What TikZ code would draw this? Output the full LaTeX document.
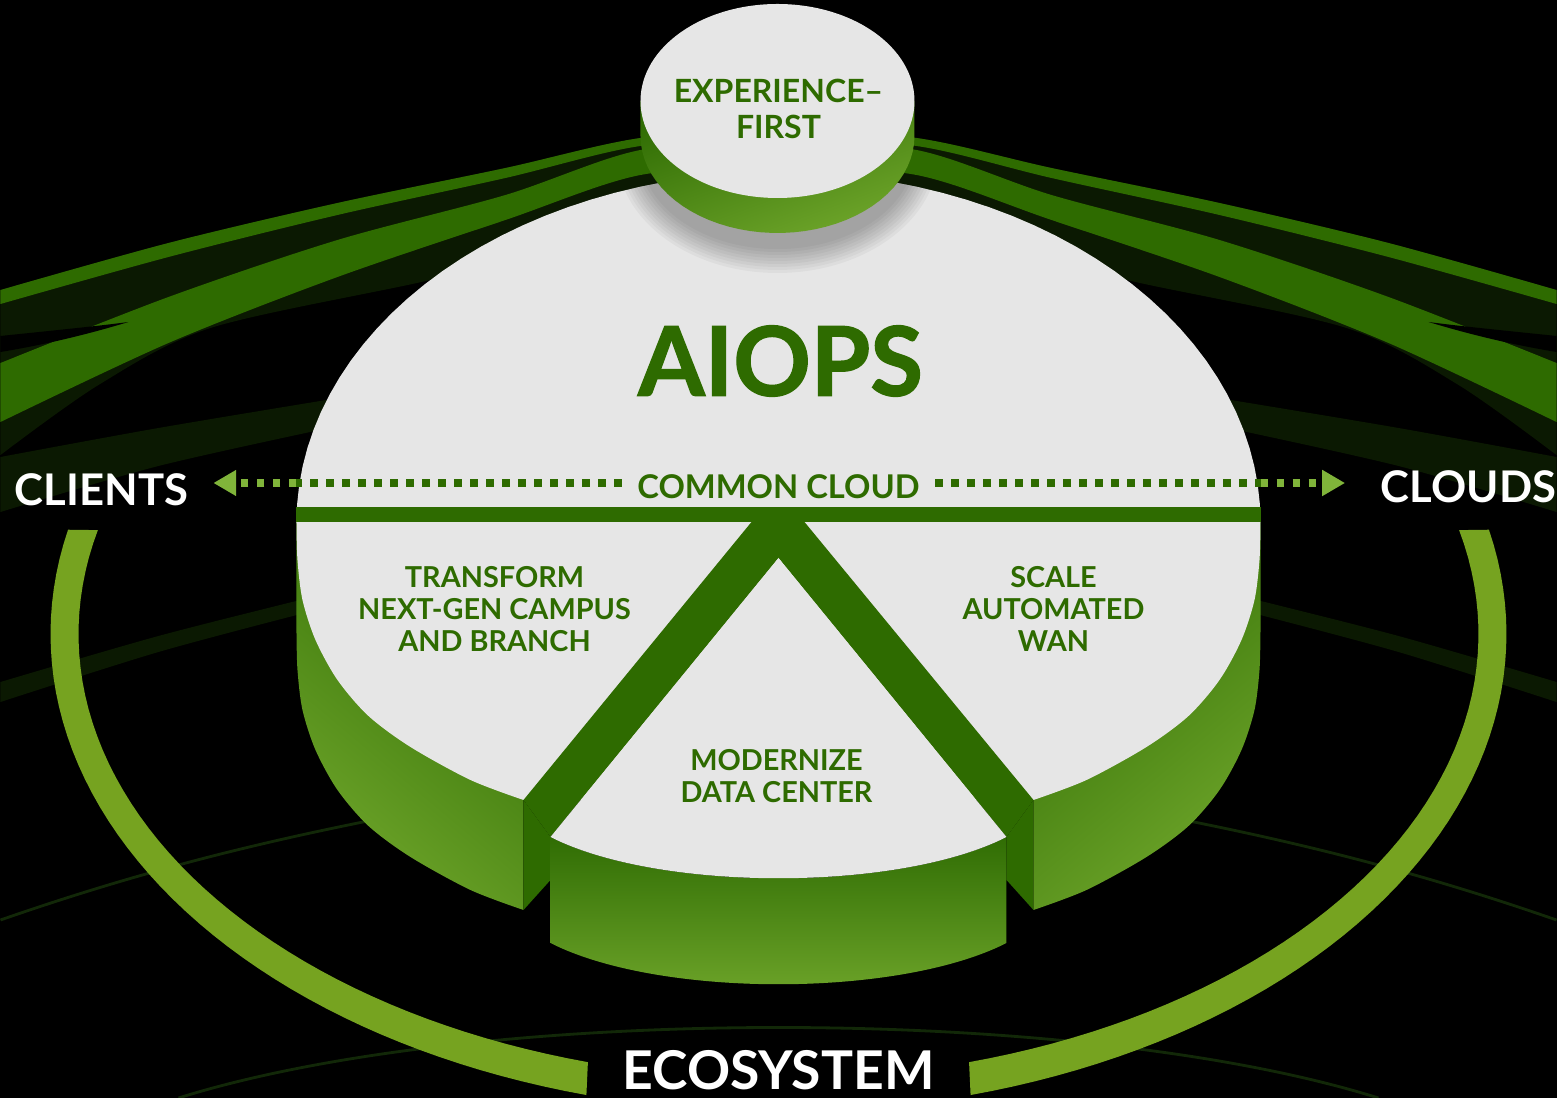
\documentclass[tikz,border=0pt]{standalone}
\usepackage{fontspec}
\setmainfont{Lato}
\newfontfamily\heavyfont{Lato}[UprightFont=* Bold, FakeBold=1.4]
\usetikzlibrary{arrows.meta}

\definecolor{leafgreen}{RGB}{46,107,0}
\definecolor{ringgreen}{RGB}{118,163,32}
\definecolor{tipgreen}{RGB}{128,180,58}
\definecolor{paper}{RGB}{230,230,230}
\definecolor{nightgreen}{RGB}{11,25,2}
\definecolor{faintgreen}{RGB}{18,40,8}
\definecolor{walldark}{RGB}{48,109,4}
\definecolor{walllight}{RGB}{110,165,42}

\begin{document}
\begin{tikzpicture}[x=0.01cm, y=-0.01cm,
  slicetext/.style={text=leafgreen, align=center, inner sep=0pt, font=\bfseries\fontsize{8.2}{9.1}\selectfont},
  sidelabel/.style={text=white, inner sep=0pt, font=\bfseries\fontsize{12.4}{14}\selectfont},
  dotline/.style={line width=2pt, dash pattern=on 2pt off 2.55pt},
  faintline/.style={draw=faintgreen, line width=0.8pt}]
\useasboundingbox (-778.5,0) rectangle (778.5,1098);

% Background
\fill[black] (-778.5,0) rectangle (778.5,1098);

% Dark haze behind the upper bands
\fill[nightgreen] plot[smooth] coordinates {(-778,290) (-610,243) (-441,203) (-273,168) (-138,138) (0,130) (138,138) (273,168) (441,203) (610,243) (778,290)}
  -- plot[smooth] coordinates {(778,455) (680,385) (568,328) (357,282) (200,245) (0,225) (-200,245) (-357,282) (-568,328) (-680,385) (-778,455)} -- cycle;

% Upper bands
\fill[leafgreen] plot[smooth] coordinates {(-778,290) (-610,243) (-441,203) (-273,168) (-138,138) (0,130) (138,138) (273,168) (441,203) (610,243) (778,290)}
  -- plot[smooth] coordinates {(778,304) (610,257) (441,215) (273,178) (138,146) (0,139) (-138,146) (-273,178) (-441,215) (-610,257) (-778,304)} -- cycle;
\fill[leafgreen] plot[smooth] coordinates {(-778,363) (-610,297) (-441,240) (-273,195) (-138,150) (0,143) (138,150) (273,195) (441,240) (610,297) (778,363)}
  -- plot[smooth] coordinates {(778,422) (610,343) (441,277) (273,220) (138,175) (0,168) (-138,175) (-273,220) (-441,277) (-610,343) (-778,422)} -- cycle;

% Lower bands and faint arcs
\foreach \s in {1,-1} {
  \begin{scope}[xscale=\s]
    \fill[black] (-778,336) .. controls (-720,330) and (-680,326) .. (-650,322) .. controls (-690,334) and (-730,344) .. (-778,352) -- cycle;
    \fill[nightgreen] plot[smooth] coordinates {(-778,457) (-620,428) (-440,398)} -- plot[smooth] coordinates {(-440,426) (-620,466) (-778,512)} -- cycle;
    \fill[nightgreen] plot[smooth] coordinates {(-778,682) (-620,636) (-470,598)} -- plot[smooth] coordinates {(-470,612) (-620,652) (-778,702)} -- cycle;
    \draw[faintline] (-778,920) .. controls (-640,872) and (-520,842) .. (-380,815);
  \end{scope}
}
\draw[faintline] (-600,1098) .. controls (-300,1004) and (300,1004) .. (600,1098);

% Ecosystem ring
\fill[ringgreen] plot[domain=192.6:105.3, samples=50] ({728*cos(\x)},{634+478*sin(\x)})
  -- plot[domain=105.8:193.5, samples=50] ({700*cos(\x)},{634+445*sin(\x)}) -- cycle;
\fill[ringgreen] plot[domain=-12.6:74.7, samples=50] ({728*cos(\x)},{634+478*sin(\x)})
  -- plot[domain=74.2:-13.5, samples=50] ({700*cos(\x)},{634+445*sin(\x)}) -- cycle;

% Disc walls
\shade[top color=walldark, bottom color=walllight, shading angle=-40] (-255,800)
  -- plot[smooth] coordinates {(-255,910) (-308,890) (-368,857) (-410,826) (-441,790) (-463,750) (-476,710) (-481,670) (-482,632)} -- (-482,522) -- cycle;
\shade[top color=walldark, bottom color=walllight, shading angle=40] (255,800)
  -- plot[smooth] coordinates {(255,910) (308,890) (368,857) (410,826) (441,790) (463,750) (476,710) (481,670) (482,632)} -- (482,522) -- cycle;

% Disc top
\fill[paper] plot[smooth] coordinates {(-255,800) (-308,780) (-368,747) (-410,716) (-441,680) (-463,640) (-476,600) (-481,560) (-482,522)}
  -- plot[domain=180:360, samples=60] ({482*cos(\x)},{522+350*sin(\x)})
  -- plot[smooth] coordinates {(482,522) (481,560) (476,600) (463,640) (441,680) (410,716) (368,747) (308,780) (255,800)} -- cycle;

% Shadow under the top cylinder
\begin{scope}
  \clip plot[domain=180:360, samples=60] ({482*cos(\x)},{522+350*sin(\x)}) -- cycle;
  \foreach \k in {1,...,9}
    \fill[black, opacity=0.035] (-1,152) ellipse [x radius={134+3*\k}, y radius={94+3*\k}];
\end{scope}

% Dividers
\fill[leafgreen] (-482,507) rectangle (482,522);
\fill[leafgreen] (-27,522) -- (-255,800) -- (-228,837) -- (0,558) -- (228,837) -- (255,800) -- (26,522) -- cycle;
\fill[leafgreen] (-255,800) -- (-228,837) -- (-228,880) -- (-255,910) -- cycle;
\fill[leafgreen] (255,800) -- (228,837) -- (228,880) -- (255,910) -- cycle;

% Data center slice
\shade[top color=walldark, bottom color=walllight] (-228,837) .. controls (-120,892) and (120,892) .. (228,837)
  -- (228,943) .. controls (120,998) and (-120,998) .. (-228,943) -- cycle;
\fill[paper] (-228,837) -- (0,558) -- (228,837) .. controls (120,892) and (-120,892) .. (-228,837) -- cycle;

% Experience cylinder
\shade[top color=walldark, bottom color=walllight, shading angle=20] (-138,101)
  -- plot[domain=180:0, samples=40] ({-1+137*cos(\x)},{136+97*sin(\x)}) -- (136,101) -- cycle;
\fill[paper] (-1,101) ellipse [x radius=137, y radius=97];

% Labels
\node[text=leafgreen, align=center, inner sep=0pt, font=\bfseries\fontsize{9.1}{10.3}\selectfont] (expfirst) at (0,109) {EXPERIENCE–\\FIRST};
\node[text=leafgreen, inner sep=0pt, font=\heavyfont\fontsize{27.3}{30}\selectfont] (aiops) at (2,361) {AIOPS};
\node[text=leafgreen, inner sep=0pt, font=\bfseries\fontsize{9.3}{11}\selectfont] (cloud) at (0,487) {COMMON CLOUD};
\node[slicetext] (campus) at (-284,609) {TRANSFORM\\NEXT-GEN CAMPUS\\AND BRANCH};
\node[slicetext] (wan) at (275,609) {SCALE\\AUTOMATED\\WAN};
\node[slicetext] (datacenter) at (-2,776) {MODERNIZE\\DATA CENTER};
\node[sidelabel] (clients) at (-677,490) {CLIENTS};
\node[sidelabel] (clouds) at (690,487) {CLOUDS};
\node[text=white, inner sep=0pt, font=\bfseries\fontsize{15.2}{18}\selectfont] (ecosystem) at (0,1070) {ECOSYSTEM};

% Dotted connectors
\coordinate (discL) at (-482,483);
\coordinate (discR) at (482,483);
\draw[dotline, leafgreen, shorten <=4.3pt] (cloud.west |- discL) -- (discL);
\draw[dotline, tipgreen, -{Triangle[length=6.5pt, width=7pt]}, shorten >=7pt] (discL) -- (clients.east |- discL);
\draw[dotline, leafgreen, shorten <=4.3pt] (cloud.east |- discR) -- (discR);
\draw[dotline, tipgreen, -{Triangle[length=6.5pt, width=7pt]}, shorten >=10pt] (discR) -- (clouds.west |- discR);
\end{tikzpicture}
\end{document}
